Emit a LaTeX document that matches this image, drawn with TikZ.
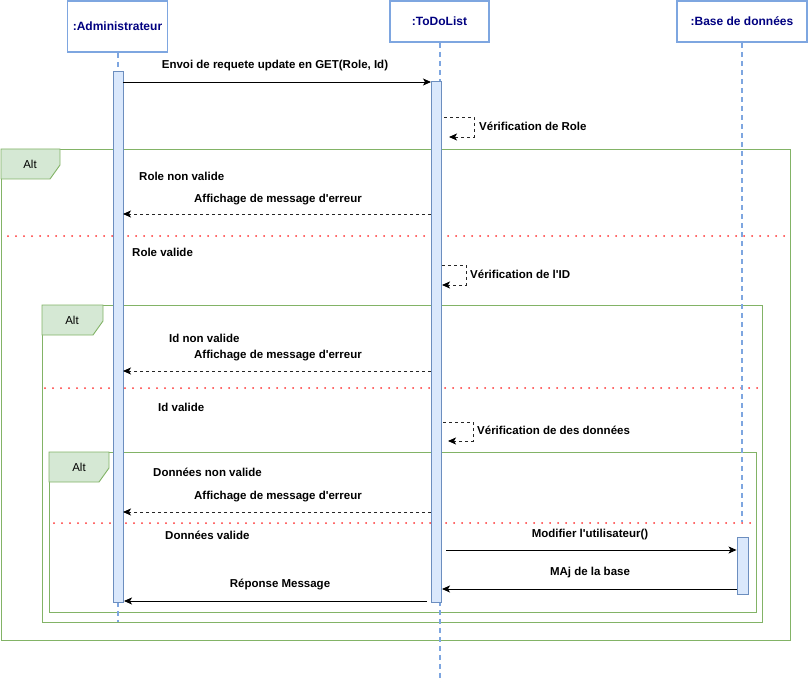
\documentclass[tikz,border=0pt]{standalone}
\usepackage{fontspec}
\setmainfont{Liberation Sans}
\usetikzlibrary{arrows.meta}
\definecolor{lifeblue}{HTML}{7EA6E0}
\definecolor{actfill}{HTML}{DAE8FC}
\definecolor{actdraw}{HTML}{6C8EBF}
\definecolor{frgreen}{HTML}{82B366}
\definecolor{tabfill}{HTML}{D5E8D4}
\definecolor{navy}{HTML}{000080}
\definecolor{sepred}{HTML}{FF3333}
\newcommand{\aq}{\textquotesingle}
\tikzset{
  headbox/.style={draw=lifeblue, line width=1.8pt, fill=white, text=navy, font=\fontsize{12}{14}\selectfont\bfseries, inner sep=0pt},
  lifeline/.style={draw=lifeblue, line width=2pt, dash pattern=on 5pt off 4pt},
  actbox/.style={draw=actdraw, fill=actfill, line width=0.9pt, minimum width=10pt, inner sep=0pt},
  msg/.style={draw=black, line width=0.9pt, -{Stealth[length=8pt,width=7pt,inset=2pt]}},
  reply/.style={draw=black!85, line width=0.9pt, dash pattern=on 3pt off 3pt, -{Stealth[length=8pt,width=7pt,inset=2pt,fill=black,color=black]}},
  lbl/.style={font=\fontsize{11.5}{13}\selectfont\bfseries, inner sep=0pt},
  frame/.style={draw=frgreen, line width=0.9pt},
  tab/.style={draw=frgreen, fill=tabfill, line width=0.9pt},
  tablbl/.style={font=\fontsize{11.5}{13}\selectfont, inner sep=0pt},
  sep/.style={draw=sepred, line width=2pt, line cap=round, dash pattern=on 0pt off 8pt},
}
\begin{document}
\begin{tikzpicture}[x=1pt,y=-1pt]
\useasboundingbox (0,0) rectangle (809,682);

% frames
\draw[frame] (1,149) rectangle (790,640);
\draw[tab] (1,149) -- (60,149) -- (60,165) -- (50,179) -- (1,179) -- cycle;
\node[tablbl] (alt1) at (30,164) {Alt};
\draw[frame] (42,305) rectangle (762,622);
\draw[tab] (42,305) -- (103,305) -- (103,321) -- (93,335) -- (42,335) -- cycle;
\node[tablbl] (alt2) at (72,320) {Alt};
\draw[frame] (49,452) rectangle (756,612);
\draw[tab] (49,452) -- (109,452) -- (109,468) -- (99,482) -- (49,482) -- cycle;
\node[tablbl] (alt3) at (79,467) {Alt};

% separators
\draw[sep] (8,236) -- (790,236);
\draw[sep] (45,388) -- (760,388);
\draw[sep] (54,523) -- (753,523);

% heads
\node[headbox, minimum width=100pt, minimum height=51pt] (admin) at (117.5,26.5) {:Administrateur};
\node[headbox, minimum width=99pt, minimum height=41pt] (todo) at (439.5,21.5) {:ToDoList};
\node[headbox, minimum width=130pt, minimum height=41pt] (db) at (742,21.5) {:Base de données};

% lifelines
\coordinate (adminEnd) at (117.5,622);
\coordinate (todoEnd) at (439.5,682);
\coordinate (dbEnd) at (742,522);
\draw[lifeline] (admin.south) -- (adminEnd);
\draw[lifeline] (todo.south) -- (todoEnd);
\draw[lifeline] (db.south) -- (dbEnd);

% activations
\node[actbox, minimum height=531pt] (adminAct) at (118,336.5) {};
\node[actbox, minimum height=521pt] (todoAct) at (436.5,341.5) {};
\node[actbox, minimum width=11pt, minimum height=57pt] (dbAct) at (742.5,565.5) {};

% message 1
\coordinate (m1a) at (123,82);
\coordinate (m1b) at (431,82);
\draw[msg] (m1a) -- (m1b);
\node[lbl] (l1) at (275,66) {Envoi de requete update en GET(Role, Id)};

% self role
\coordinate (s1a) at (444,117);
\coordinate (s1b) at (449,137);
\draw[reply] (s1a) -- (474,117) -- (474,137) -- (s1b);
\node[lbl, anchor=west] (ls1) at (479,126) {Vérification de Role};

\node[lbl, anchor=west] (c1) at (139,176) {Role non valide};
\coordinate (r1a) at (431,214);
\coordinate (r1b) at (123,214);
\draw[reply] (r1a) -- (r1b);
\node[lbl] (lr1) at (278,200) {Affichage de message d\aq erreur};

\node[lbl, anchor=west] (c2) at (132,252) {Role valide};

% self id
\coordinate (s2a) at (442,265);
\coordinate (s2b) at (442,285);
\draw[reply] (s2a) -- (466,265) -- (466,285) -- (s2b);
\node[lbl, anchor=west] (ls2) at (470,274) {Vérification de l\aq ID};

\node[lbl, anchor=west] (c3) at (169,338) {Id non valide};
\coordinate (r2a) at (431,371);
\coordinate (r2b) at (123,371);
\draw[reply] (r2a) -- (r2b);
\node[lbl] (lr2) at (278,356) {Affichage de message d\aq erreur};

\node[lbl, anchor=west] (c4) at (158,407) {Id valide};

% self data
\coordinate (s3a) at (443,422);
\coordinate (s3b) at (448,441);
\draw[reply] (s3a) -- (473,422) -- (473,441) -- (s3b);
\node[lbl, anchor=west] (ls3) at (477,430) {Vérification de des données};

\node[lbl, anchor=west] (c5) at (153,472) {Données non valide};
\coordinate (r3a) at (431,512);
\coordinate (r3b) at (123,512);
\draw[reply] (r3a) -- (r3b);
\node[lbl] (lr3) at (278,497) {Affichage de message d\aq erreur};

\node[lbl, anchor=west] (c6) at (165,535) {Données valide};

\coordinate (m2a) at (446,550);
\coordinate (m2b) at (dbAct.west |- m2a);
\draw[msg] (m2a) -- (m2b);
\node[lbl] (lm2) at (590,535) {Modifier l\aq utilisateur()};

\coordinate (m3a) at (dbAct.west |- 0,589);
\coordinate (m3b) at (442,589);
\draw[msg] (m3a) -- (m3b);
\node[lbl] (lm3) at (590,573) {MAj de la base};

\coordinate (m4a) at (427,601);
\coordinate (m4b) at (124,601);
\draw[msg] (m4a) -- (m4b);
\node[lbl] (lm4) at (280,584) {Réponse Message};
\end{tikzpicture}
\end{document}
